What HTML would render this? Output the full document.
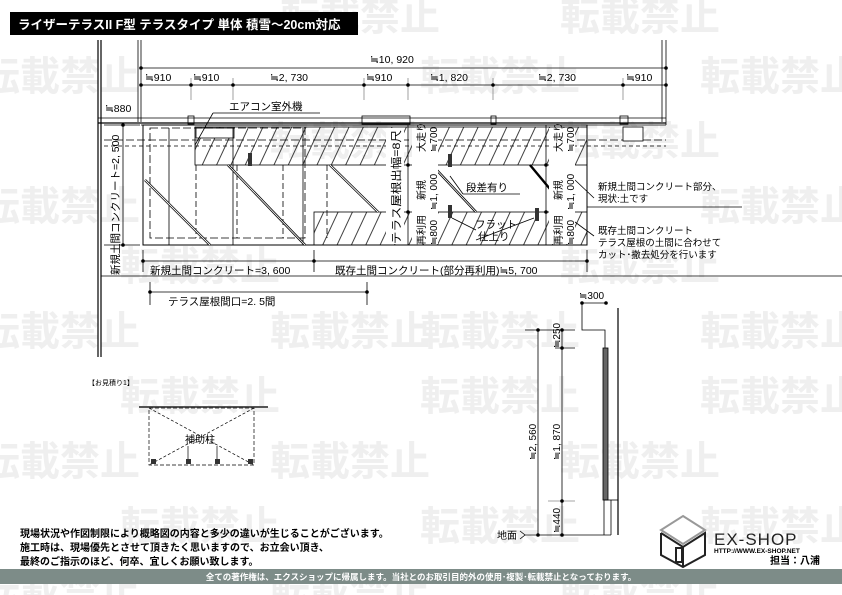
<!DOCTYPE html>
<html><head><meta charset="utf-8"><style>
html,body{margin:0;padding:0;background:#fff}
svg{display:block}
text{font-family:"Liberation Sans","Noto Sans CJK JP",sans-serif}
</style></head><body>
<svg width="842" height="595" viewBox="0 0 842 595" xmlns="http://www.w3.org/2000/svg">
<defs>
<pattern id="hatch" patternUnits="userSpaceOnUse" width="13" height="40" patternTransform="rotate(25)">
<line x1="6" y1="0" x2="6" y2="40" stroke="#111" stroke-width="0.8"/>
</pattern>
</defs>
<rect width="842" height="595" fill="#fff"/>
<g fill="#efefef" font-size="40" font-weight="bold">
<text x="280" y="30">転載禁止</text><text x="560" y="30">転載禁止</text>
<text x="-20" y="90">転載禁止</text><text x="420" y="90">転載禁止</text><text x="700" y="90">転載禁止</text>
<text x="270" y="155">転載禁止</text><text x="560" y="155">転載禁止</text>
<text x="-20" y="220">転載禁止</text><text x="700" y="220">転載禁止</text>
<text x="120" y="280">転載禁止</text><text x="560" y="280">転載禁止</text>
<text x="-20" y="345">転載禁止</text><text x="270" y="345">転載禁止</text><text x="420" y="345">転載禁止</text><text x="700" y="345">転載禁止</text>
<text x="120" y="410">転載禁止</text><text x="420" y="410">転載禁止</text><text x="700" y="410">転載禁止</text>
<text x="-20" y="475">転載禁止</text><text x="270" y="475">転載禁止</text><text x="560" y="475">転載禁止</text>
<text x="120" y="540">転載禁止</text><text x="420" y="540">転載禁止</text><text x="700" y="540">転載禁止</text>
<text x="-20" y="605">転載禁止</text><text x="270" y="605">転載禁止</text><text x="560" y="605">転載禁止</text>
</g>
<rect x="10" y="12" width="348" height="23" fill="#000"/>
<text x="18" y="29" fill="#fff" font-size="12.5" font-weight="bold">ライザーテラスII F型 テラスタイプ 単体  積雪～20cm対応</text>

<g stroke="#000" fill="none" stroke-width="0.8">
<line x1="98" y1="40" x2="98" y2="357" stroke-width="1.2"/>
<line x1="101" y1="40" x2="101" y2="357" stroke-width="1.2"/>
<line x1="138" y1="40" x2="138" y2="122"/>
<line x1="141" y1="40" x2="141" y2="122"/>
<line x1="662" y1="40" x2="662" y2="122"/>
<line x1="666" y1="40" x2="666" y2="125"/>
<line x1="141" y1="68" x2="666" y2="68"/>
<line x1="141" y1="85" x2="666" y2="85"/>
<g stroke="#888"><line x1="191" y1="78" x2="191" y2="100"/><line x1="233" y1="78" x2="233" y2="100"/><line x1="364" y1="78" x2="364" y2="100"/><line x1="408" y1="78" x2="408" y2="100"/><line x1="493" y1="78" x2="493" y2="100"/><line x1="623" y1="78" x2="623" y2="100"/></g>
<line x1="98" y1="118" x2="666" y2="118"/>
<line x1="98" y1="123" x2="666" y2="123" stroke-width="1.2"/>
<line x1="141" y1="125" x2="666" y2="125"/>
<rect x="188" y="116" width="6" height="8"/><rect x="362" y="116" width="48" height="8"/><rect x="491" y="116" width="5" height="8"/><rect x="620" y="116" width="8" height="8"/>
<rect x="143" y="125" width="444" height="120" stroke-width="1"/>
<rect x="195" y="127" width="392" height="38" fill="url(#hatch)"/>
<rect x="314" y="212" width="273" height="33" fill="url(#hatch)"/>
<rect x="196" y="128" width="38" height="10" fill="#fff"/>
<line x1="104" y1="140" x2="666" y2="140" stroke-dasharray="8,3"/>
<line x1="104" y1="146" x2="666" y2="146" stroke-dasharray="4,3"/>
<rect x="150" y="128" width="155" height="110" stroke-dasharray="8,3"/>
<line x1="196" y1="165" x2="196" y2="238" stroke-dasharray="6,3"/>
<line x1="237" y1="165" x2="237" y2="238" stroke-dasharray="6,3"/>
<line x1="283" y1="165" x2="283" y2="238" stroke-dasharray="6,3"/>
<line x1="327" y1="165" x2="327" y2="238" stroke-dasharray="6,3"/>
<line x1="169" y1="128" x2="169" y2="245"/><line x1="233" y1="128" x2="233" y2="245"/><line x1="303" y1="128" x2="303" y2="245"/><line x1="408" y1="125" x2="408" y2="245"/><line x1="546" y1="125" x2="546" y2="245"/>
<g stroke-width="2.4"><line x1="145" y1="180" x2="210" y2="245"/><line x1="228" y1="165" x2="305" y2="245"/><line x1="330" y1="165" x2="378" y2="212"/><line x1="432" y1="165" x2="476" y2="212"/><line x1="530" y1="165" x2="555" y2="195"/></g>
<g stroke="#fff" stroke-width="0.9"><line x1="145" y1="180" x2="210" y2="245"/><line x1="228" y1="165" x2="305" y2="245"/><line x1="330" y1="165" x2="378" y2="212"/><line x1="432" y1="165" x2="476" y2="212"/></g>
<rect x="623" y="127" width="20" height="14" fill="#fff"/>
<line x1="123" y1="125" x2="123" y2="245"/><line x1="104" y1="125" x2="140" y2="125"/><line x1="104" y1="245" x2="140" y2="245"/>
<line x1="143" y1="261" x2="587" y2="261"/>
<line x1="143" y1="250" x2="143" y2="272"/><line x1="314" y1="250" x2="314" y2="272"/><line x1="587" y1="250" x2="587" y2="272"/>
<line x1="101" y1="276" x2="842" y2="276"/>
<line x1="150" y1="292" x2="367" y2="292"/><line x1="150" y1="282" x2="150" y2="305"/><line x1="367" y1="282" x2="367" y2="305"/>
<line x1="213" y1="113" x2="320" y2="113"/><line x1="213" y1="113" x2="195" y2="145"/>
<line x1="463" y1="194" x2="520" y2="194"/><line x1="463" y1="194" x2="450" y2="176"/>
<line x1="476" y1="230" x2="452" y2="218"/><line x1="476" y1="240" x2="534" y2="218"/>
<line x1="594" y1="198" x2="575" y2="180"/><line x1="594" y1="236" x2="575" y2="222"/>
<line x1="587" y1="207" x2="742" y2="207"/>
</g>
<g fill="#fff"><rect x="386" y="128" width="18" height="116"/><rect x="412" y="128" width="26" height="116"/><rect x="549" y="128" width="26" height="116"/></g>
<g fill="#333"><rect x="248" y="153" width="4" height="13"/><rect x="448" y="154" width="4" height="13"/><rect x="448" y="205" width="4" height="13"/><rect x="535" y="208" width="4" height="13"/></g>
<g fill="#000"><circle cx="141" cy="68" r="1.8"/><circle cx="666" cy="68" r="1.8"/><circle cx="141" cy="85" r="1.8"/><circle cx="191" cy="85" r="1.8"/><circle cx="233" cy="85" r="1.8"/><circle cx="364" cy="85" r="1.8"/><circle cx="408" cy="85" r="1.8"/><circle cx="493" cy="85" r="1.8"/><circle cx="623" cy="85" r="1.8"/><circle cx="666" cy="85" r="1.8"/>
<circle cx="143" cy="261" r="1.8"/><circle cx="314" cy="261" r="1.8"/><circle cx="587" cy="261" r="1.8"/><circle cx="150" cy="292" r="1.8"/><circle cx="367" cy="292" r="1.8"/><circle cx="123" cy="125" r="1.8"/><circle cx="123" cy="245" r="1.8"/>
<circle cx="408" cy="165" r="1.8"/><circle cx="408" cy="212" r="1.8"/><circle cx="546" cy="165" r="1.8"/><circle cx="546" cy="212" r="1.8"/></g>
<g font-size="10.5" fill="#000">
<text x="370" y="63">≒10, 920</text>
<text x="145" y="81">≒910</text><text x="193" y="81">≒910</text><text x="270" y="81">≒2, 730</text><text x="366" y="81">≒910</text><text x="430" y="81">≒1, 820</text><text x="538" y="81">≒2, 730</text><text x="626" y="81">≒910</text>
<text x="105" y="112">≒880</text>
<text x="229" y="110">エアコン室外機</text>
<text x="466" y="191">段差有り</text>
<text x="475" y="228">フラット</text><text x="478" y="240">仕上り</text>
<text x="150" y="274">新規土間コンクリート=3, 600</text>
<text x="335" y="274">既存土間コンクリート(部分再利用)≒5, 700</text>
<text x="168" y="305">テラス屋根間口=2. 5間</text>
<text font-size="9.5" x="598" y="190">新規土間コンクリート部分、</text><text font-size="9.5" x="598" y="202">現状:土です</text>
<text font-size="9.5" x="598" y="234">既存土間コンクリート</text><text font-size="9.5" x="598" y="246">テラス屋根の土間に合わせて</text><text font-size="9.5" x="598" y="258">カット･撤去処分を行います</text>
<text transform="translate(119,275) rotate(-90)">新規土間コンクリート=2, 500</text>
<text transform="translate(400,244) rotate(-90)" font-size="11" textLength="114" lengthAdjust="spacingAndGlyphs">テラス屋根出幅=8尺</text>
</g>
<g font-size="10" fill="#000">
<text transform="translate(425,152) rotate(-90)">大走り</text>
<text transform="translate(437,152) rotate(-90)">≒700</text>
<text transform="translate(425,200) rotate(-90)">新規</text>
<text transform="translate(437,210) rotate(-90)">≒1, 000</text>
<text transform="translate(425,245) rotate(-90)">再利用</text>
<text transform="translate(437,245) rotate(-90)">≒800</text>
<text transform="translate(562,152) rotate(-90)">大走り</text>
<text transform="translate(574,152) rotate(-90)">≒700</text>
<text transform="translate(562,200) rotate(-90)">新規</text>
<text transform="translate(574,210) rotate(-90)">≒1, 000</text>
<text transform="translate(562,245) rotate(-90)">再利用</text>
<text transform="translate(574,245) rotate(-90)">≒800</text>
</g>
<g stroke="#000" fill="none" stroke-width="0.8">
<line x1="618" y1="308" x2="618" y2="535" stroke-width="1.2"/>
<polyline points="582,303 582,330 605,330 605,348"/>
<line x1="582" y1="303" x2="606" y2="303"/>
<rect x="603" y="348" width="5" height="152" fill="#666"/>
<line x1="604" y1="500" x2="604" y2="535"/><line x1="611" y1="500" x2="611" y2="535"/><line x1="604" y1="500" x2="618" y2="500"/>
<line x1="538" y1="330" x2="538" y2="535"/><line x1="562" y1="330" x2="562" y2="535"/>
<line x1="525" y1="330" x2="575" y2="330"/><line x1="555" y1="348" x2="575" y2="348"/><line x1="548" y1="501" x2="575" y2="501" stroke="#888"/>
<polyline points="525,535 611,535"/>
<polyline points="520,531 525,535 520,539"/>
</g>
<g fill="#000"><circle cx="538" cy="330" r="1.8"/><circle cx="562" cy="330" r="1.8"/><circle cx="562" cy="348" r="1.8"/><circle cx="562" cy="501" r="1.8"/><circle cx="538" cy="535" r="1.8"/><circle cx="562" cy="535" r="1.8"/><circle cx="582" cy="303" r="1.8"/><circle cx="606" cy="303" r="1.8"/></g>
<g font-size="10" fill="#000">
<text x="579" y="299">≒300</text>
<text transform="translate(560,348) rotate(-90)">≒250</text>
<text transform="translate(536,460) rotate(-90)">≒2, 560</text>
<text transform="translate(560,460) rotate(-90)">≒1, 870</text>
<text transform="translate(560,533) rotate(-90)">≒440</text>
<text x="497" y="539">地面</text>
</g>
<text x="88" y="385" font-size="7" fill="#000">【お見積り1】</text>
<g stroke="#000" fill="none" stroke-width="0.7">
<line x1="139" y1="407" x2="268" y2="407" stroke="#555" stroke-width="2"/>
<rect x="149" y="408" width="105" height="57" stroke-dasharray="4,2"/>
<line x1="149" y1="408" x2="254" y2="465" stroke-dasharray="3,2"/><line x1="254" y1="408" x2="149" y2="465" stroke-dasharray="3,2"/>
<line x1="188" y1="446" x2="188" y2="460"/><line x1="217" y1="446" x2="217" y2="460"/>
</g>
<g fill="#333"><rect x="151" y="459" width="5" height="5"/><rect x="186" y="459" width="5" height="5"/><rect x="215" y="459" width="5" height="5"/><rect x="248" y="459" width="5" height="5"/></g>
<text x="185" y="443" font-size="10" fill="#000">補助柱</text>
<g font-size="10" font-weight="bold" fill="#000">
<text x="20" y="537">現場状況や作図制限により概略図の内容と多少の違いが生じることがございます。</text>
<text x="20" y="551">施工時は、現場優先とさせて頂きたく思いますので、お立会い頂き、</text>
<text x="20" y="565">最終のご指示のほど、何卒、宜しくお願い致します。</text>
</g>
<g stroke-width="2" fill="none">
<polygon points="683,516 705,530 683,544 661,530" stroke="#999"/>
<polyline points="661,533 683,547 705,533 705,555 683,567 661,555 661,533" stroke="#222"/>
<line x1="683" y1="547" x2="683" y2="567" stroke="#222"/>
<rect x="676" y="548" width="6" height="14" stroke="#222"/>
</g>
<text x="714" y="545" font-size="17" fill="#222" letter-spacing="1">EX-SHOP</text>
<text x="714" y="553" font-size="6.5" fill="#000" font-weight="bold">HTTP://WWW.EX-SHOP.NET</text>
<text x="770" y="564" font-size="10" font-weight="bold" fill="#000">担当：八浦</text>
<rect x="0" y="569" width="842" height="15" fill="#7d8c88"/>
<text x="421" y="580" font-size="8.5" fill="#fff" text-anchor="middle" font-weight="bold">全ての著作権は、エクスショップに帰属します。当社とのお取引目的外の使用･複製･転載禁止となっております。</text>
</svg>
</body></html>
